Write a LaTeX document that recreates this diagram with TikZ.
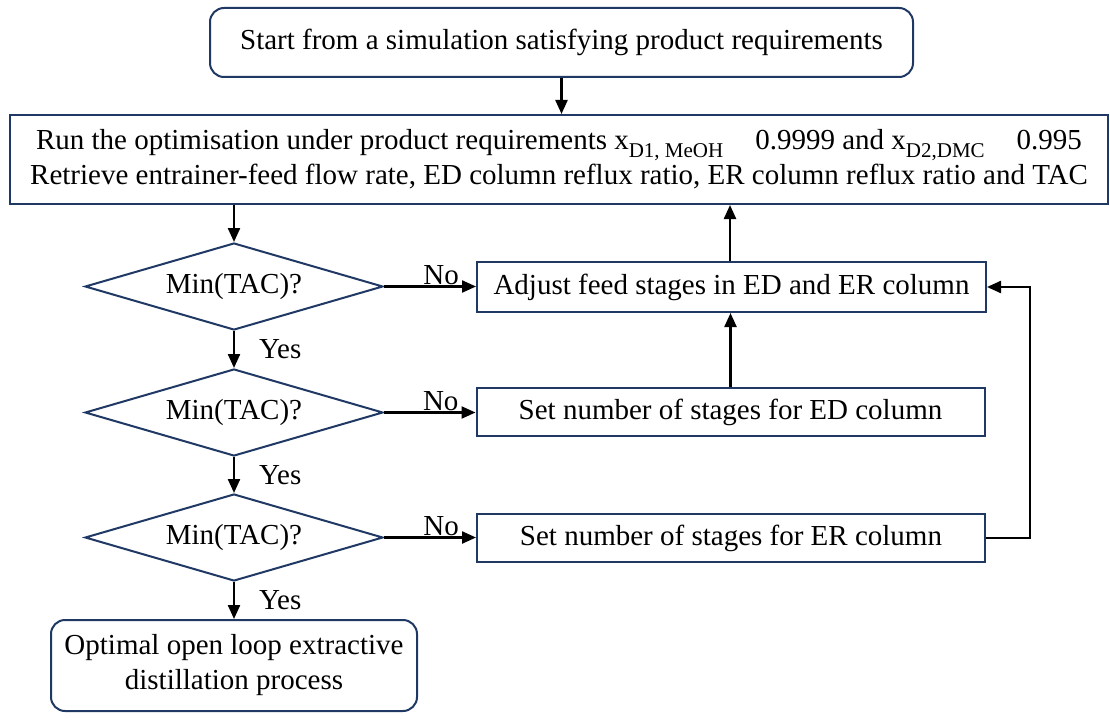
\documentclass[tikz,border=0pt]{standalone}
\usepackage{fontspec}
\setmainfont{Liberation Serif}
\usetikzlibrary{shapes.geometric,arrows.meta,calc}
\definecolor{navy}{HTML}{1F3864}
\tikzset{
  base/.style={draw=navy, line width=2pt, fill=white, inner sep=0pt, align=center, font=\fontsize{29}{35}\selectfont},
  rbox/.style={base, rounded corners=14pt},
  sbox/.style={base},
  dec/.style={base, shape=diamond, aspect=3.4},
  arr/.style={draw=black, line width=2.3pt, -{Triangle[length=14pt,width=12pt]}},
  lbl/.style={inner sep=0pt, font=\fontsize{29}{35}\selectfont}
}
\newcommand{\subtxt}[1]{\raisebox{-0.28em}{\fontsize{21}{21}\selectfont #1}}
\begin{document}
\begin{tikzpicture}[x=1pt,y={(0pt,-1pt)}]
\useasboundingbox (0,0) rectangle (1110,722);
\node[rbox, minimum width=703pt, minimum height=69pt] (start) at (561.5,42.5) {Start from a simulation satisfying product requirements};
\node[sbox, minimum width=1098pt, minimum height=89pt] (opt) at (559,159.5) {Run the optimisation under product requirements x\subtxt{D1, MeOH}\hspace{32pt}0.9999 and x\subtxt{D2,DMC}\hspace{32pt}0.995\\Retrieve entrainer-feed flow rate, ED column reflux ratio, ER column reflux ratio and TAC};
\node[dec, minimum width=298pt, minimum height=87pt] (d1) at (234,286.5) {Min(TAC)?};
\node[dec, minimum width=298pt, minimum height=87pt] (d2) at (234,412.5) {Min(TAC)?};
\node[dec, minimum width=298pt, minimum height=87pt] (d3) at (234,537.5) {Min(TAC)?};
\node[rbox, minimum width=366pt, minimum height=91pt] (final) at (234,665.5) {Optimal open loop extractive\\distillation process};
\node[sbox, minimum width=509pt, minimum height=50pt] (adj) at (731.5,287) {Adjust feed stages in ED and ER column};
\node[sbox, minimum width=508pt, minimum height=48pt] (sed) at (730.5,412) {Set number of stages for ED column};
\node[sbox, minimum width=508pt, minimum height=48pt] (ser) at (731,538) {Set number of stages for ER column};
\coordinate (loop) at (1030,538);
\draw[arr] (start.south) -- (opt.north -| start.south);
\draw[arr] (opt.south -| d1.north) -- (d1.north);
\draw[arr] (d1.south) -- node[lbl, right=24pt] (y1) {Yes} (d2.north);
\draw[arr] (d2.south) -- node[lbl, right=24pt] (y2) {Yes} (d3.north);
\draw[arr] (d3.south) -- node[lbl, right=24pt] (y3) {Yes} (final.north);
\draw[arr] (d1.east) -- node[lbl, above=1pt, pos=0.62] (n1) {No} (d1.east -| adj.west);
\draw[arr] (d2.east) -- node[lbl, above=1pt, pos=0.62] (n2) {No} (d2.east -| sed.west);
\draw[arr] (d3.east) -- node[lbl, above=1pt, pos=0.62] (n3) {No} (d3.east -| ser.west);
\draw[arr] ($(adj.north)+(-1.5,0)$) -- (opt.south -| {$(adj.north)+(-1.5,0)$});
\draw[arr] (sed.north) -- (adj.south -| sed.north);
\draw[arr] (ser.east) -- (loop) -- (loop |- adj.east) -- (adj.east);
\end{tikzpicture}
\end{document}
